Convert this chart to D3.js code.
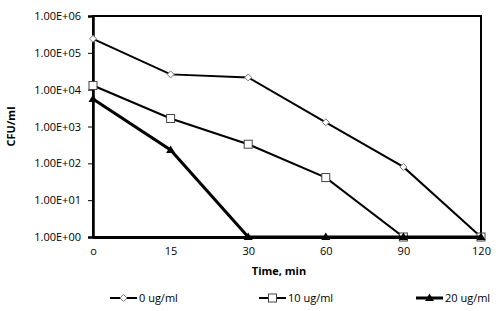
<!DOCTYPE html>
<html>
<head>
<meta charset="utf-8">
<script src="https://cdn.jsdelivr.net/npm/d3@7"></script>
<style>
  body { margin: 0; background: #fff; }
  text { font-family: "Open Sans", "Liberation Sans", sans-serif; fill: #000; }
</style>
</head>
<body>
<div id="chart"></div>
<script>
// time points (categorical, equally spaced) and their tick labels
const times = ["0", "15", "30", "60", "90", "120"];
const timeLabels = ["o", "15", "30", "60", "90", "120"];

// CFU/ml readings per concentration
const cfu0 = [240000, 26000, 21500, 1300, 80, 1];
const cfu10 = [13000, 1650, 330, 41, 1, 1];
const cfu20 = [5600, 230, 1, 1, 1, 1];

const yTicks = [1, 10, 100, 1000, 10000, 100000, 1000000];

const series = [
  { name: "0 ug/ml", values: cfu0, marker: "diamond", width: 2 },
  { name: "10 ug/ml", values: cfu10, marker: "square", width: 2 },
  { name: "20 ug/ml", values: cfu20, marker: "triangle", width: 3 }
];

const W = 500, H = 311;
const margin = { top: 16, right: 19, bottom: 74, left: 93 };
const width = W - margin.left - margin.right;
const height = H - margin.top - margin.bottom;

const svg = d3.select("#chart").append("svg")
  .attr("width", W).attr("height", H);

const chart = svg.append("g")
  .attr("transform", `translate(${margin.left},${margin.top})`);

const x = d3.scalePoint().domain(times).range([0, width]).padding(0);
const y = d3.scaleLog().domain([1, 1000000]).range([height, 0]);

// frame
chart.append("rect")
  .attr("width", width).attr("height", height)
  .attr("fill", "none").attr("stroke", "#000").attr("stroke-width", 2);

// y axis
const yAxis = chart.append("g")
  .call(d3.axisLeft(y).tickValues(yTicks).tickSize(5).tickPadding(7)
    .tickFormat(d => d3.format(".2e")(d).toUpperCase().replace(/E([+-])(\d)$/, "E$10$2")));
yAxis.select(".domain").attr("stroke-width", 2.5);
yAxis.selectAll(".tick line").attr("stroke-width", 1);
yAxis.selectAll("text").style("font-size", "11px");

// x axis
const xAxis = chart.append("g")
  .attr("transform", `translate(0,${height})`)
  .call(d3.axisBottom(x).tickSize(0).tickPadding(10)
    .tickFormat((d, i) => timeLabels[i]));
xAxis.select(".domain").attr("stroke-width", 3);
xAxis.selectAll("text").style("font-size", "11px");

// axis titles
chart.append("text")
  .attr("x", width / 2 - 8).attr("y", height + 38)
  .attr("text-anchor", "middle")
  .style("font-size", "11px").style("font-weight", "bold")
  .text("Time, min");

svg.append("text")
  .attr("transform", `translate(15,${margin.top + height / 2}) rotate(-90)`)
  .attr("text-anchor", "middle")
  .style("font-size", "11px").style("font-weight", "bold")
  .text("CFU/ml");

const line = d3.line()
  .x((d, i) => x(times[i]))
  .y(d => y(d));

function drawMarker(g, type, cx, cy) {
  if (type === "diamond") {
    g.append("path")
      .attr("d", `M${cx},${cy - 3.5}L${cx + 3.5},${cy}L${cx},${cy + 3.5}L${cx - 3.5},${cy}Z`)
      .attr("fill", "#fff").attr("stroke", "#777").attr("stroke-width", 1);
  } else if (type === "square") {
    g.append("rect")
      .attr("x", cx - 4).attr("y", cy - 4).attr("width", 8).attr("height", 8)
      .attr("fill", "#fff").attr("stroke", "#444").attr("stroke-width", 1);
  } else {
    g.append("path")
      .attr("d", `M${cx},${cy - 4.5}L${cx + 4.5},${cy + 3}L${cx - 4.5},${cy + 3}Z`)
      .attr("fill", "#000");
  }
}

series.forEach(s => {
  const g = chart.append("g");
  g.append("path")
    .datum(s.values)
    .attr("d", line)
    .attr("fill", "none")
    .attr("stroke", "#000")
    .attr("stroke-width", s.width);
  s.values.forEach((v, i) => drawMarker(g, s.marker, x(times[i]), y(v)));
});

// legend
const legendX = [110, 259, 416];
const legend = svg.append("g").attr("transform", "translate(0,298)");
series.forEach((s, i) => {
  const g = legend.append("g").attr("transform", `translate(${legendX[i]},0)`);
  g.append("line")
    .attr("x1", 0).attr("x2", 27)
    .attr("stroke", "#000").attr("stroke-width", s.width);
  drawMarker(g, s.marker, 13.5, 0);
  g.append("text")
    .attr("x", 29).attr("dy", "0.35em")
    .style("font-size", "11px")
    .text(s.name);
});
</script>
</body>
</html>
